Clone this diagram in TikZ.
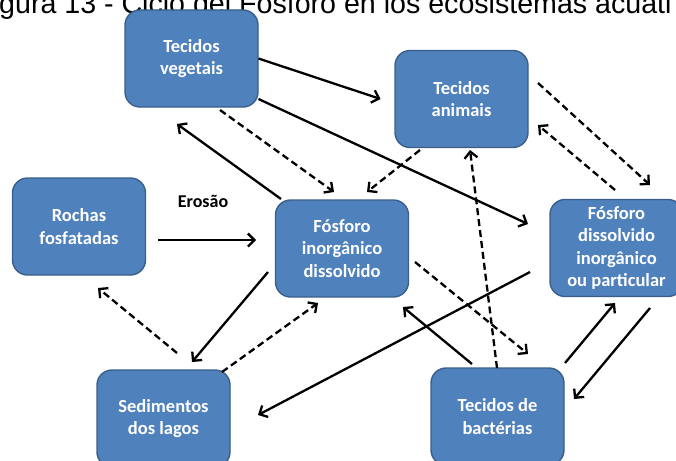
\documentclass[tikz,border=0pt]{standalone}
\usepackage{fontspec}
\setmainfont{Carlito}
\newfontfamily\titlefont{Liberation Sans}
\usetikzlibrary{arrows.meta,calc}

\definecolor{boxfill}{HTML}{4F81BD}
\definecolor{boxline}{HTML}{3A5F8B}

\tikzset{
  stagebox/.style={draw=boxline, line width=1.4pt, fill=boxfill,
    rounded corners=15pt, minimum width=133pt, minimum height=97pt,
    inner sep=0pt, align=center, text=white,
    font=\bfseries\fontsize{18.5}{22.5}\selectfont},
  flow/.style={line width=2.3pt, -{Straight Barb[length=6.5pt,width=13pt]}},
  solidflow/.style={flow},
  dashflow/.style={flow, dash pattern=on 7pt off 4pt}
}

\begin{document}
\begin{tikzpicture}[x=1pt,y=-1pt]
\useasboundingbox (0,0) rectangle (676,460);

% figure caption, running off the top edge
\node[anchor=base west, inner sep=0pt, font=\titlefont\fontsize{28.6}{30}\selectfont]
  (caption) at (-1,14) {gura 13 - Ciclo del Fósforo en los ecosistemas acuáti};

% compartments of the cycle
\node[stagebox] (veg) at (191.5,58.5) {Tecidos\\vegetais};
\node[stagebox] (ani) at (461.5,99) {Tecidos\\animais};
\node[stagebox] (roc) at (79,226.5) {Rochas\\fosfatadas};
\node[stagebox] (fid) at (342,248.5) {Fósforo\\inorgânico\\dissolvido};
\node[stagebox] (fdp) at (616.5,248) {Fósforo\\dissolvido\\inorgânico\\ou particular};
\node[stagebox] (sed) at (163.5,418.5) {Sedimentos\\dos lagos};
\node[stagebox] (bac) at (497.5,416.5) {Tecidos de\\bactérias};

\node[font=\bfseries\fontsize{18}{20}\selectfont] (ero) at (203,201) {Erosão};

% transfers
\draw[solidflow] ($(veg)+(67,0)$) -- ($(ani)+(-81,0)$);
\draw[solidflow] ($(veg)+(67,40.5)$) -- ($(fdp)+(-88.5,-24)$);
\draw[dashflow]  ($(veg)+(28.5,51.5)$) -- ($(fid)+(-8,-56.5)$);
\draw[solidflow] ($(fid)+(-61,-49.5)$) -- ($(veg)+(-14.5,65.5)$);
\draw[dashflow]  ($(ani)+(-41.5,51)$) -- ($(fid)+(25,-56.5)$);
\draw[dashflow]  ($(ani)+(76.5,-16)$) -- ($(fdp)+(33.5,-63)$);
\draw[dashflow]  ($(fdp)+(-1.5,-58)$) -- ($(ani)+(76.5,26)$);
\draw[solidflow] ($(roc)+(79,13.5)$) -- ($(fid)+(-86,-8.5)$);
\draw[solidflow] ($(fid)+(-74,23.5)$) -- ($(sed)+(28.5,-56.5)$);
\draw[dashflow]  ($(sed)+(58.5,-46.5)$) -- ($(fid)+(-24,54.5)$);
\draw[dashflow]  ($(sed)+(13.5,-65.5)$) -- ($(roc)+(19,61.5)$);
\draw[solidflow] ($(fdp)+(-86.5,24)$) -- ($(sed)+(94.5,-3.5)$);
\draw[dashflow]  ($(fid)+(73,13.5)$) -- ($(bac)+(30.5,-62.5)$);
\draw[solidflow] ($(bac)+(-25.5,-52.5)$) -- ($(fid)+(61,58.5)$);
\draw[dashflow]  ($(bac)+(-0.5,-48.5)$) -- ($(ani)+(8.5,51)$);
\draw[solidflow] ($(bac)+(67.5,-53.5)$) -- ($(fdp)+(-1.5,55)$);
\draw[solidflow] ($(fdp)+(33.5,60)$) -- ($(bac)+(76.5,-17.5)$);
\end{tikzpicture}
\end{document}
